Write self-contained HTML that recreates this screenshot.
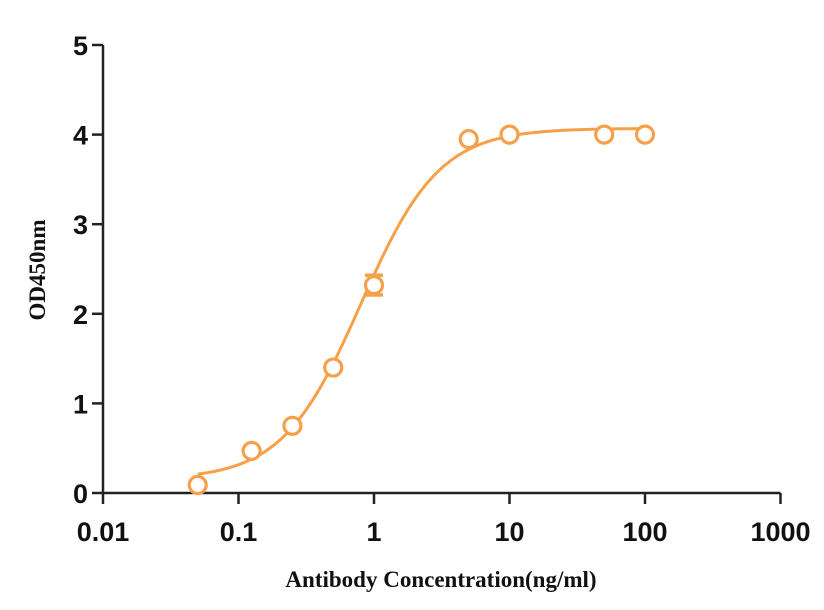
<!DOCTYPE html>
<html><head><meta charset="utf-8"><style>
body{margin:0;background:#fff;}
svg{display:block;}
.tick{font-family:"Liberation Sans",Arial,sans-serif;font-weight:bold;font-size:27px;fill:#111;}
.title{font-family:"Liberation Serif",serif;font-weight:bold;font-size:23px;fill:#111;}
</style></head><body>
<svg id="chart" width="824" height="610" viewBox="0 0 824 610">
<g id="axes"></g>
<g id="series"></g>
<text class="title" transform="translate(45,270) rotate(-90)" text-anchor="middle">OD450nm</text>
<text class="title" x="441" y="587" text-anchor="middle">Antibody Concentration(ng/ml)</text>
</svg>
<script>
const concentrations=[0.05,0.125,0.25,0.5,1,5,10,50,100];
const odValues=[0.09,0.47,0.75,1.40,2.32,3.95,4.0,4.0,4.0];
const odErrors=[0,0,0,0,0.11,0,0,0,0];
const xTicks=[0.01,0.1,1,10,100,1000];
const xTickLabels=["0.01","0.1","1","10","100","1000"];
const yTicks=[0,1,2,3,4,5];
const fitBottom=0.15, fitTop=4.07, fitEC50=0.8, fitHill=1.5;

const NS="http://www.w3.org/2000/svg";
const X0=103, DEC=135.5, Y0=493, YU=89.6;
function xs(v){return X0+(Math.log10(v)+2)*DEC;}
function ys(v){return Y0-v*YU;}
function mk(tag,attrs,parent){const e=document.createElementNS(NS,tag);for(const k in attrs)e.setAttribute(k,attrs[k]);parent.appendChild(e);return e;}
const axes=document.getElementById('axes'), ser=document.getElementById('series');
const col="#F7A04A";
let l=mk('line',{x1:X0,y1:ys(5),x2:X0,y2:Y0,stroke:"#222","stroke-width":2.5},axes);


l=mk('line',{x1:X0,y1:Y0,x2:xs(1000),y2:Y0,stroke:"#222","stroke-width":2.5},axes);


yTicks.forEach(v=>{
 const t=mk('line',{x1:X0-11,y1:ys(v),x2:X0,y2:ys(v),stroke:"#222","stroke-width":2.5},axes);
 
 
 const tx=mk('text',{x:X0-15,y:ys(v)+10,"text-anchor":"end",class:"tick"},axes);
 tx.textContent=String(v);
 
 
});
xTicks.forEach((v,i)=>{
 const t=mk('line',{x1:xs(v),y1:Y0,x2:xs(v),y2:Y0+11,stroke:"#222","stroke-width":2.5},axes);
 
 
 const tx=mk('text',{x:xs(v),y:Y0+48,"text-anchor":"middle",class:"tick"},axes);
 tx.textContent=xTickLabels[i];
 
 
});
let d="";
for(let i=0;i<=200;i++){const lx=Math.log10(0.05)+i/200*(Math.log10(100)-Math.log10(0.05));const c=Math.pow(10,lx);
 const y=fitBottom+(fitTop-fitBottom)/(1+Math.pow(fitEC50/c,fitHill));d+=(i?"L":"M")+xs(c).toFixed(1)+","+ys(y).toFixed(1);}
const p=mk('path',{d:d,fill:"none",stroke:col,"stroke-width":3},ser);


concentrations.forEach((c,i)=>{
 const x=xs(c),y=ys(odValues[i]),e=odErrors[i];
 if(e>0){
  const eb=mk('path',{d:`M${x},${ys(odValues[i]+e)}V${ys(odValues[i]-e)}M${x-9},${ys(odValues[i]+e)}H${x+9}M${x-9},${ys(odValues[i]-e)}H${x+9}`,stroke:col,"stroke-width":3.5,fill:"none"},ser);
  
  
 }
 const m=mk('circle',{cx:x,cy:y,r:8.5,fill:"#fff",stroke:col,"stroke-width":3.2},ser);
 
 
});
</script>
</body></html>
